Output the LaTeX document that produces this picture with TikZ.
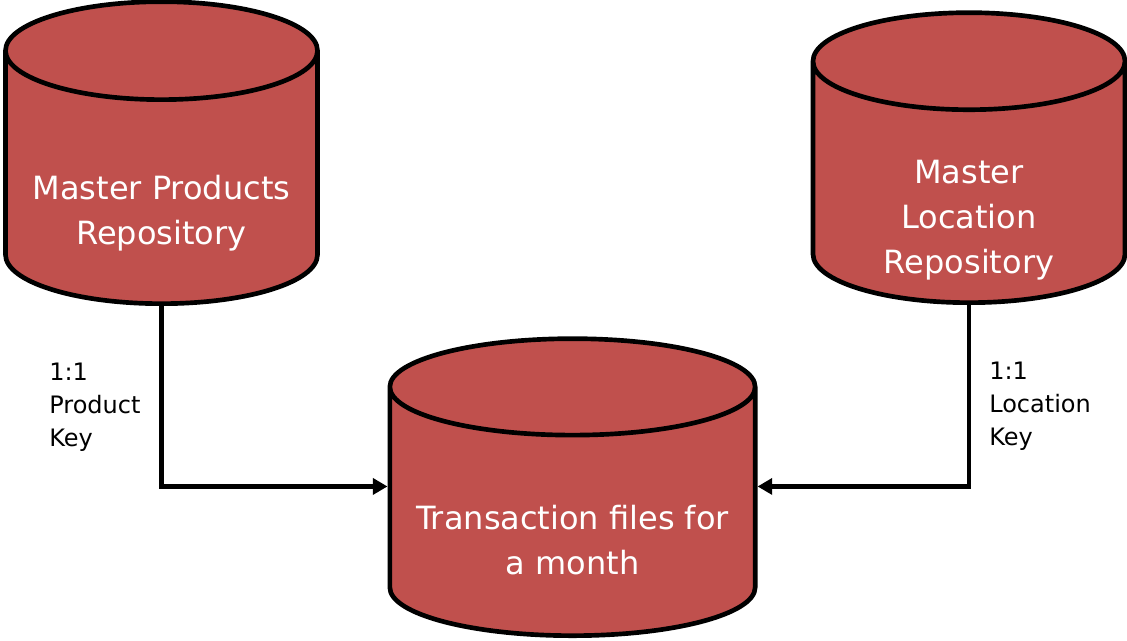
\documentclass[tikz,border=0pt]{standalone}
\usepackage{fontspec}
\setmainfont{DejaVu Sans}
\usetikzlibrary{arrows.meta,positioning,shapes.geometric}
\definecolor{repored}{HTML}{C0504D}

\begin{document}
\begin{tikzpicture}[
  x=0.75pt,
  y=-0.75pt,
  >={Triangle[length=11pt,width=12pt]},
  repo/.style={
    cylinder,
    shape border rotate=90,
    anchor=south,
    draw,
    line width=3.5pt,
    fill=repored,
    inner sep=0pt
  },
  repotext/.style={
    text=white,
    align=center,
    inner sep=0pt,
    font=\fontsize{24}{33.75}\selectfont
  },
  keylabel/.style={
    align=left,
    inner sep=0pt,
    font=\fontsize{18}{24.75}\selectfont
  }
]
  \useasboundingbox (0,0) rectangle (1127,640);

  \node[repo,text width=234pt,minimum width=234pt,minimum height=226.5pt,aspect=0.314,
    label={[repotext,name=productsText,yshift=-26pt]center:Master Products\\Repository}]
    (products) at (161.5,306) {};
  \node[repo,text width=234pt,minimum width=234pt,minimum height=217.5pt,aspect=0.311,
    label={[repotext,name=locationsText,yshift=-27.5pt]center:Master\\Location\\Repository}]
    (locations) at (969,305) {};
  \node[repo,text width=274pt,minimum width=274pt,minimum height=222.75pt,aspect=0.264,
    label={[repotext,name=transactionsText,yshift=-20.5pt]center:Transaction files for\\a month}]
    (transactions) at (572.5,638) {};

  \draw[->,line width=3.5pt] (products.south) |- ([yshift=19.5pt]transactions.west)
    node[keylabel,pos=0.28,left=14pt] {1:1\\Product\\Key};
  \draw[->,line width=3.5pt] (locations.south) |- ([yshift=19.5pt]transactions.east)
    node[keylabel,pos=0.28,right=13.5pt] {1:1\\Location\\Key};
\end{tikzpicture}
\end{document}
